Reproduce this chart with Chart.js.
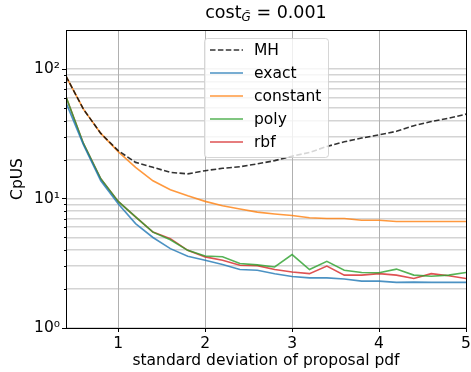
<!DOCTYPE html>
<html>
<head>
<meta charset="utf-8">
<script src="https://cdn.jsdelivr.net/npm/chart.js@4"></script>
<style>
  body { margin: 0; background: #fff; }
  #wrap { position: relative; width: 471px; height: 372px; }
  #title {
    position: absolute; left: 66px; width: 400px; top: 2px;
    text-align: center; font-family: "DejaVu Sans"; font-size: 17.5px; color: #000;
  }
  #title sub { font-size: 12px; font-style: italic; vertical-align: -3px; }
</style>
</head>
<body>
<div id="wrap">
  <canvas id="c" width="471" height="372"></canvas>
  <div id="title">cost<sub>G̃</sub> = 0.001</div>
</div>
<script>
// standard deviation of proposal pdf
const sigmas = [0.4, 0.6, 0.8, 1.0, 1.2, 1.4, 1.6, 1.8, 2.0, 2.2, 2.4, 2.6, 2.8, 3.0, 3.2, 3.4, 3.6, 3.8, 4.0, 4.2, 4.4, 4.6, 4.8, 5.0];

// CpUS per method
const mhVals       = [88, 49, 31.8, 23.4, 19.0, 17.4, 15.9, 15.5, 16.4, 17.1, 17.6, 18.5, 19.6, 21.2, 22.7, 25.2, 27.4, 29.3, 31, 33, 36.5, 39.3, 41.7, 44.8];
const exactVals    = [55, 26, 13.7, 9.1, 6.4, 5.0, 4.1, 3.58, 3.33, 3.09, 2.83, 2.79, 2.62, 2.5, 2.44, 2.44, 2.39, 2.3, 2.3, 2.25, 2.26, 2.25, 2.25, 2.25];
const constantVals = [88, 49, 31.8, 23.0, 17.4, 13.7, 11.7, 10.5, 9.5, 8.8, 8.3, 7.85, 7.6, 7.4, 7.1, 7.0, 7.0, 6.8, 6.8, 6.65, 6.65, 6.65, 6.65, 6.65];
const polyVals     = [61, 26.6, 14.2, 9.5, 7.2, 5.5, 4.8, 3.98, 3.6, 3.55, 3.15, 3.07, 2.96, 3.69, 2.83, 3.27, 2.79, 2.68, 2.67, 2.85, 2.56, 2.51, 2.56, 2.68];
const rbfVals      = [61, 26.6, 14.2, 9.5, 7.2, 5.5, 4.9, 3.98, 3.54, 3.33, 3.05, 3.03, 2.83, 2.71, 2.63, 3.01, 2.56, 2.56, 2.63, 2.56, 2.41, 2.63, 2.53, 2.41];

const xTicks = [1, 2, 3, 4, 5];
const yMajor = [1, 10, 100];
const yMinor = [2, 3, 4, 5, 6, 7, 8, 9, 20, 30, 40, 50, 60, 70, 80, 90];
const supers = { 1: '10⁰', 10: '10¹', 100: '10²' };

const series = [
  { label: 'MH', data: mhVals, color: 'rgba(0,0,0,0.8)', dash: [5.5, 2.4] },
  { label: 'exact', data: exactVals, color: 'rgba(31,119,180,0.8)' },
  { label: 'constant', data: constantVals, color: 'rgba(255,127,14,0.8)' },
  { label: 'poly', data: polyVals, color: 'rgba(44,160,44,0.8)' },
  { label: 'rbf', data: rbfVals, color: 'rgba(214,39,40,0.8)' }
];

const font = { family: 'DejaVu Sans', size: 15.5 };

// frame, tick marks and boxed legend like matplotlib
const decor = {
  id: 'decor',
  afterDatasetsDraw(chart) {
    const { ctx, chartArea: a, scales: { x, y } } = chart;
    ctx.save();
    ctx.strokeStyle = '#000';
    ctx.lineWidth = 1;
    // ticks
    ctx.beginPath();
    xTicks.forEach(v => { const px = Math.round(x.getPixelForValue(v)) + 0.5; ctx.moveTo(px, a.bottom); ctx.lineTo(px, a.bottom + 4); });
    yMajor.forEach(v => { const py = Math.round(y.getPixelForValue(v)) + 0.5; ctx.moveTo(a.left, py); ctx.lineTo(a.left - 4, py); });
    yMinor.forEach(v => { const py = Math.round(y.getPixelForValue(v)) + 0.5; ctx.moveTo(a.left, py); ctx.lineTo(a.left - 2, py); });
    ctx.stroke();
    ctx.strokeRect(Math.round(a.left) + 0.5, Math.round(a.top) + 0.5, Math.round(a.right - a.left), Math.round(a.bottom - a.top));

    // legend
    const lx = 204, ly = 38, lw = 124, lh = 119, r = 3;
    ctx.beginPath();
    ctx.roundRect(lx + 0.5, ly + 0.5, lw, lh, r);
    ctx.fillStyle = 'rgba(255,255,255,0.8)';
    ctx.fill();
    ctx.strokeStyle = 'rgba(204,204,204,0.8)';
    ctx.stroke();
    ctx.font = '15.5px "DejaVu Sans"';
    ctx.textBaseline = 'middle';
    series.forEach((s, i) => {
      const cy = 50 + i * 23;
      ctx.beginPath();
      ctx.setLineDash(s.dash || []);
      ctx.strokeStyle = s.color;
      ctx.lineWidth = 1.6;
      ctx.moveTo(210, cy); ctx.lineTo(243, cy);
      ctx.stroke();
      ctx.setLineDash([]);
      ctx.fillStyle = '#000';
      ctx.fillText(s.label, 254, cy + 1);
    });
    ctx.restore();
  }
};

new Chart(document.getElementById('c'), {
  type: 'line',
  data: {
    labels: sigmas,
    datasets: series.map(s => ({
      label: s.label,
      data: sigmas.map((v, i) => ({ x: v, y: s.data[i] })),
      borderColor: s.color,
      borderWidth: 1.6,
      borderDash: s.dash || [],
      pointRadius: 0,
      tension: 0,
      fill: false
    }))
  },
  options: {
    responsive: false,
    animation: false,
    layout: { padding: { top: 30, right: 5, left: 0, bottom: 0 } },
    plugins: { legend: { display: false }, title: { display: false }, tooltip: { enabled: false } },
    scales: {
      x: {
        type: 'linear', min: 0.4, max: 5,
        afterBuildTicks: sc => { sc.ticks = xTicks.map(v => ({ value: v })); },
        afterFit: sc => { sc.height = 44; sc.paddingRight = 0; sc.paddingLeft = 0; },
        grid: { color: '#b0b0b0', lineWidth: 1, drawTicks: false },
        border: { display: false },
        ticks: { color: '#000', font, padding: 7, maxRotation: 0, callback: v => String(v) },
        title: { display: true, text: 'standard deviation of proposal pdf', color: '#000', font, padding: { top: 0, bottom: 2 } }
      },
      y: {
        type: 'logarithmic', min: 1, max: 200,
        afterBuildTicks: sc => {
          sc.ticks = yMajor.concat(yMinor).sort((p, q) => p - q).map(v => ({ value: v, major: yMajor.includes(v) }));
        },
        afterFit: sc => { sc.width = 66; sc.paddingTop = 0; sc.paddingBottom = 0; },
        grid: { color: 'rgba(176,176,176,0.55)', lineWidth: 1.5, drawTicks: false },
        border: { display: false },
        ticks: { color: '#000', font, padding: 6, autoSkip: false, callback: v => supers[v] || '' },
        title: { display: true, text: 'CpUS', color: '#000', font, padding: { top: 9, bottom: 0 } }
      }
    }
  },
  plugins: [decor]
});
</script>
</body>
</html>
